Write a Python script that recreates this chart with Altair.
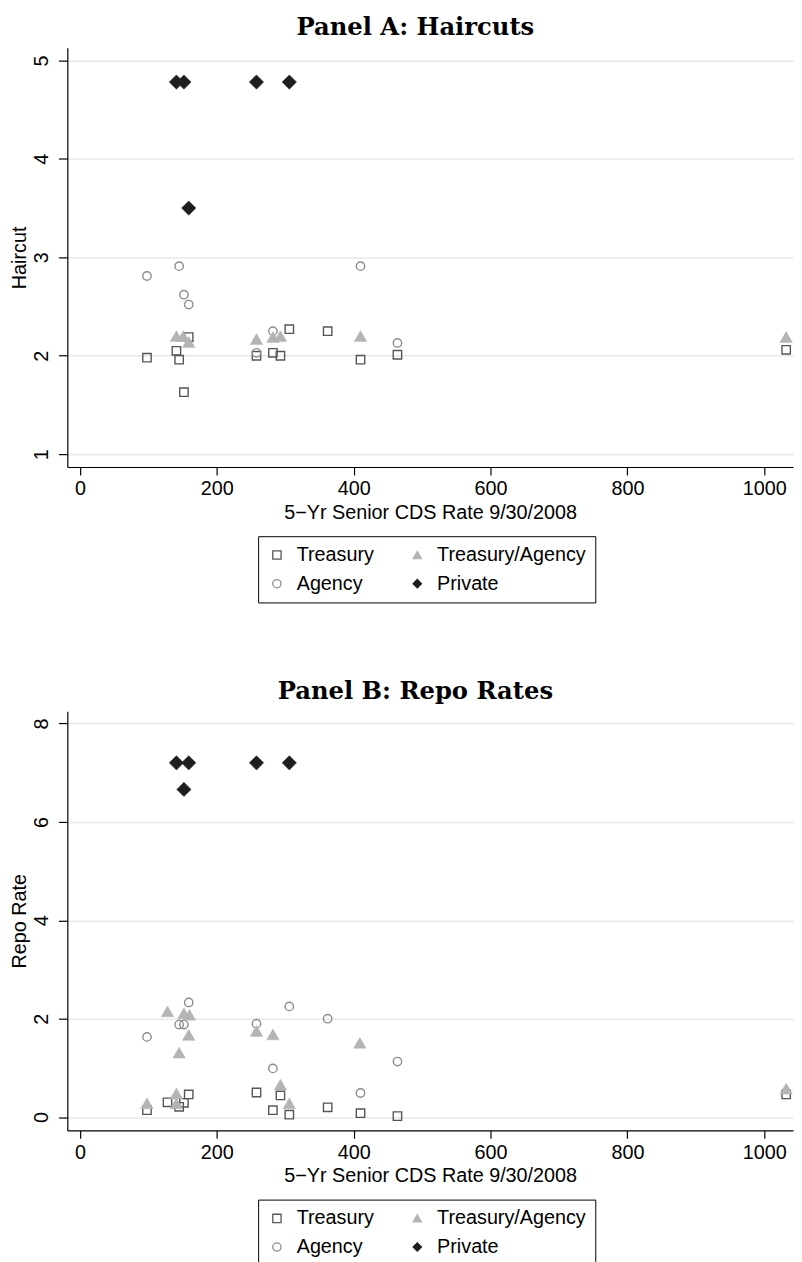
import altair as alt
import pandas as pd

# ---------------- data ----------------
# legend order (column-major in a 2-column legend): Treasury, Agency | Treasury/Agency, Private
types = ["Treasury", "Agency", "Treasury/Agency", "Private"]

# Panel A: Haircuts
a_treasury_x = [98, 141, 145, 152, 159, 258, 282, 293, 306, 362, 410, 464, 1032]
a_treasury_y = [1.98, 2.05, 1.96, 1.63, 2.19, 2.00, 2.03, 2.00, 2.27, 2.25, 1.96, 2.01, 2.06]
a_tsyag_x = [141, 151, 159, 258, 282, 293, 410, 1032]
a_tsyag_y = [2.20, 2.20, 2.14, 2.17, 2.19, 2.20, 2.20, 2.19]
a_agency_x = [98, 145, 152, 159, 258, 282, 410, 464]
a_agency_y = [2.81, 2.91, 2.62, 2.52, 2.03, 2.25, 2.91, 2.13]
a_private_x = [141, 152, 258, 306, 159]
a_private_y = [4.78, 4.78, 4.78, 4.78, 3.50]

# Panel B: Repo Rates
b_treasury_x = [98, 128, 145, 152, 159, 258, 282, 293, 306, 362, 410, 464, 1032]
b_treasury_y = [0.14, 0.30, 0.21, 0.29, 0.46, 0.50, 0.14, 0.44, 0.05, 0.20, 0.08, 0.02, 0.46]
b_tsyag_x = [98, 128, 141, 141, 145, 152, 160, 159, 258, 282, 293, 306, 409, 1032]
b_tsyag_y = [0.28, 2.15, 0.48, 0.28, 1.31, 2.11, 2.08, 1.67, 1.75, 1.68, 0.66, 0.28, 1.51, 0.58]
b_agency_x = [98, 145, 152, 159, 258, 282, 306, 362, 410, 464]
b_agency_y = [1.63, 1.88, 1.88, 2.33, 1.90, 0.99, 2.25, 2.00, 0.49, 1.13]
b_private_x = [141, 159, 152, 258, 306]
b_private_y = [7.20, 7.20, 6.66, 7.20, 7.20]

x_ticks = [0, 200, 400, 600, 800, 1000]
a_y_ticks = [1, 2, 3, 4, 5]
b_y_ticks = [0, 2, 4, 6, 8]

titles = ["Panel A: Haircuts", "Panel B: Repo Rates"]
y_titles = ["Haircut", "Repo Rate"]
x_title = "5\u2212Yr Senior CDS Rate 9/30/2008"


def frame(series):
    rows = []
    for t, xs, ys in series:
        for x, y in zip(xs, ys):
            rows.append({"cds": x, "val": y, "type": t})
    return pd.DataFrame(rows)


dfA = frame([("Treasury", a_treasury_x, a_treasury_y),
             ("Treasury/Agency", a_tsyag_x, a_tsyag_y),
             ("Agency", a_agency_x, a_agency_y),
             ("Private", a_private_x, a_private_y)])
dfB = frame([("Treasury", b_treasury_x, b_treasury_y),
             ("Treasury/Agency", b_tsyag_x, b_tsyag_y),
             ("Agency", b_agency_x, b_agency_y),
             ("Private", b_private_x, b_private_y)])

FONT = "Liberation Sans"
TREAS = "#555555"
TSYAG = "#b4b4b4"
AGENCY = "#8c8c8c"
PRIV = "#1e1e1e"

W, H = 734, 424

legend = alt.Legend(
    title=None, orient="none", legendX=193, legendY=494, columns=2,
    strokeColor="#000000", padding=9, fillColor="white",
    labelFont=FONT, labelFontSize=20, labelColor="#000000", labelOffset=10,
    columnPadding=33, rowPadding=9, symbolSize=70, symbolStrokeWidth=1.3,
    labelLimit=400,
)

shape_scale = alt.Scale(domain=types, range=["square", "circle", "triangle-up", "diamond"])
fill_scale = alt.Scale(domain=types, range=["transparent", "transparent", TSYAG, PRIV])
stroke_scale = alt.Scale(domain=types, range=[TREAS, AGENCY, TSYAG, PRIV])

sizes = {"Treasury": 72, "Treasury/Agency": 160, "Agency": 72, "Private": 210}
strokes = {"Treasury": 1.4, "Treasury/Agency": 0.5, "Agency": 1.4, "Private": 0.5}


def panel(df, title, ytitle, ydomain, yticks):
    xenc = alt.X("cds:Q", scale=alt.Scale(domain=[-18.4, 1042], nice=False, zero=False),
                 axis=alt.Axis(values=x_ticks, title=x_title, grid=False, format="d"))
    yenc = alt.Y("val:Q", scale=alt.Scale(domain=ydomain, nice=False, zero=False),
                 axis=alt.Axis(values=yticks, title=ytitle, grid=True, labelAngle=270,
                               labelAlign="center", labelBaseline="bottom", format="d"))
    layers = []
    for t in types:
        layers.append(
            alt.Chart(df).transform_filter(alt.datum.type == t).mark_point(
                size=sizes[t], strokeWidth=strokes[t], opacity=1
            ).encode(
                x=xenc, y=yenc,
                shape=alt.Shape("type:N", scale=shape_scale, legend=legend),
                fill=alt.Fill("type:N", scale=fill_scale, legend=legend),
                stroke=alt.Stroke("type:N", scale=stroke_scale, legend=legend),
            )
        )
    title_layer = alt.Chart(pd.DataFrame({"t": [title]})).mark_text(
        font="DejaVu Serif", fontSize=24.5, fontWeight="bold", color="#000000",
        align="center", baseline="alphabetic",
    ).encode(text="t:N", x=alt.value(352), y=alt.value(-12.6))
    return alt.layer(*layers, title_layer).properties(width=W, height=H)


chartA = panel(dfA, titles[0], y_titles[0], [0.87, 5.128], a_y_ticks)
chartB = panel(dfB, titles[1], y_titles[1], [-0.27, 8.25], b_y_ticks)

chart = alt.vconcat(chartA, chartB, spacing=76).resolve_scale(
    shape="independent", fill="independent", stroke="independent"
).resolve_legend(shape="independent", fill="independent", stroke="independent").properties(
    padding={"left": 1, "top": 0, "right": 0, "bottom": 0}
).configure_view(stroke=None).configure_axis(
    labelFont=FONT, titleFont=FONT, labelFontSize=20, titleFontSize=20,
    labelColor="#000000", titleColor="#000000", titleFontWeight="normal",
    domainColor="#000000", domainWidth=1.2, tickColor="#000000", tickWidth=1.2,
    gridColor="#e8e8e8", gridWidth=1.5,
).configure_axisX(tickSize=8, labelPadding=4, titlePadding=4).configure_axisY(
    tickSize=9, labelPadding=7, titlePadding=2)

chart.save("out.html", embed_options={"renderer": "svg", "actions": False})
